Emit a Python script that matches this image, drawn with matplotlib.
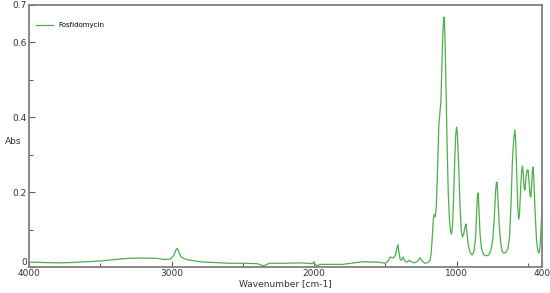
import numpy as np
import matplotlib
matplotlib.use("Agg")
import matplotlib.pyplot as plt

# IR spectrum (wavenumber in cm-1, absorbance)
wavenumber = [4000, 3900, 3800, 3700, 3600, 3500, 3400, 3300, 3200, 3100,
              3050, 3010, 2985, 2970, 2960, 2950, 2935, 2910, 2880, 2850,
              2800, 2700, 2600, 2500, 2400, 2370, 2355, 2340, 2320, 2300,
              2200, 2100, 2050, 2010, 2000, 1995, 1980, 1970, 1960, 1900,
              1800, 1700, 1650, 1550, 1500, 1480, 1465, 1455, 1445, 1430,
              1418, 1411, 1404, 1395, 1385, 1375, 1362, 1347, 1333, 1318,
              1295, 1270, 1256, 1245, 1225, 1200, 1186, 1178, 1170, 1163,
              1157, 1150, 1142, 1133, 1124, 1117, 1110, 1103, 1096, 1090,
              1086, 1080, 1074, 1066, 1058, 1050, 1042, 1035, 1028, 1020,
              1012, 1005, 999, 993, 985, 975, 966, 958, 950, 940,
              934, 927, 918, 905, 891, 878, 866, 858, 852, 848,
              843, 835, 825, 810, 795, 775, 760, 745, 735, 726,
              720, 715, 709, 700, 690, 680, 670, 655, 640, 628,
              618, 608, 598, 590, 584, 577, 570, 564, 558, 550,
              543, 537, 531, 525, 519, 512, 505, 498, 490, 484,
              478, 472, 467, 463, 458, 452, 445, 438, 430, 422,
              416, 410, 405, 400]
absorbance = [0.013, 0.012, 0.011, 0.012, 0.014, 0.016, 0.020, 0.023, 0.024, 0.023,
              0.020, 0.021, 0.030, 0.045, 0.050, 0.042, 0.028, 0.022, 0.019, 0.017,
              0.014, 0.012, 0.010, 0.010, 0.009, 0.005, 0.003, 0.005, 0.009, 0.010,
              0.010, 0.011, 0.010, 0.009, 0.014, 0.008, 0.004, 0.004, 0.007, 0.007,
              0.007, 0.012, 0.014, 0.013, 0.010, 0.016, 0.027, 0.025, 0.024, 0.030,
              0.050, 0.060, 0.040, 0.020, 0.018, 0.027, 0.016, 0.013, 0.018, 0.014,
              0.011, 0.016, 0.025, 0.018, 0.010, 0.012, 0.018, 0.035, 0.080, 0.125,
              0.140, 0.134, 0.160, 0.260, 0.380, 0.410, 0.440, 0.530, 0.620, 0.665,
              0.668, 0.600, 0.480, 0.330, 0.200, 0.130, 0.095, 0.088, 0.110, 0.190,
              0.290, 0.355, 0.374, 0.350, 0.270, 0.160, 0.095, 0.080, 0.088, 0.108,
              0.115, 0.095, 0.060, 0.040, 0.032, 0.040, 0.080, 0.150, 0.195, 0.198,
              0.160, 0.090, 0.050, 0.033, 0.030, 0.032, 0.042, 0.075, 0.130, 0.200,
              0.225, 0.227, 0.180, 0.110, 0.065, 0.042, 0.037, 0.038, 0.048, 0.080,
              0.160, 0.280, 0.345, 0.366, 0.330, 0.240, 0.160, 0.128, 0.140, 0.210,
              0.255, 0.270, 0.245, 0.210, 0.206, 0.240, 0.258, 0.260, 0.225, 0.190,
              0.187, 0.220, 0.262, 0.267, 0.240, 0.180, 0.120, 0.070, 0.045, 0.037,
              0.045, 0.080, 0.120, 0.155]

x_major = [4000, 3000, 2000, 1000, 400]
x_minor = [3500, 2500, 1500, 500]
y_major = [0, 0.2, 0.4, 0.6, 0.7]
y_labels = ["0", "0.2", "0.4", "0.6", "0.7"]
y_minor = [0.1, 0.3, 0.5]

fig = plt.figure(figsize=(5.5, 2.93), dpi=100)
ax = fig.add_axes([29 / 550, 26 / 293, 513 / 550, 262 / 293])

ax.plot(wavenumber, absorbance, color="#4cb04c", linewidth=0.9, label="Fosfidomycin")

ax.set_xlim(4000, 400)
ax.set_ylim(0, 0.7)

ax.set_xticks(x_major)
ax.set_xticklabels([str(v) for v in x_major])
ax.set_xticks(x_minor, minor=True)
ax.set_yticks(y_major)
ax.set_yticklabels(y_labels)
ax.set_yticks(y_minor, minor=True)

ax.tick_params(which="both", direction="in", color="#606060", labelsize=6.5,
               labelcolor="#333333", width=0.8)
ax.tick_params(which="major", length=4, pad=1.5)
ax.tick_params(which="minor", length=3)

# lift the "0" label a little so it does not sit on top of "4000"
ax.get_yticklabels()[0].set_va("bottom")

for s in ax.spines.values():
    s.set_color("#808080")
    s.set_linewidth(1.3)

ax.set_xlabel("Wavenumber [cm-1]", fontsize=6.5, color="#333333", labelpad=1)
fig.text(5 / 550, 1 - 141 / 293, "Abs", fontsize=6.5, color="#333333", va="center", ha="left")

ax.legend(loc="upper left", frameon=False, fontsize=5, handlelength=2.5,
          borderaxespad=0.6, bbox_to_anchor=(0.0, 0.96))

fig.savefig("out.png", dpi=100)
